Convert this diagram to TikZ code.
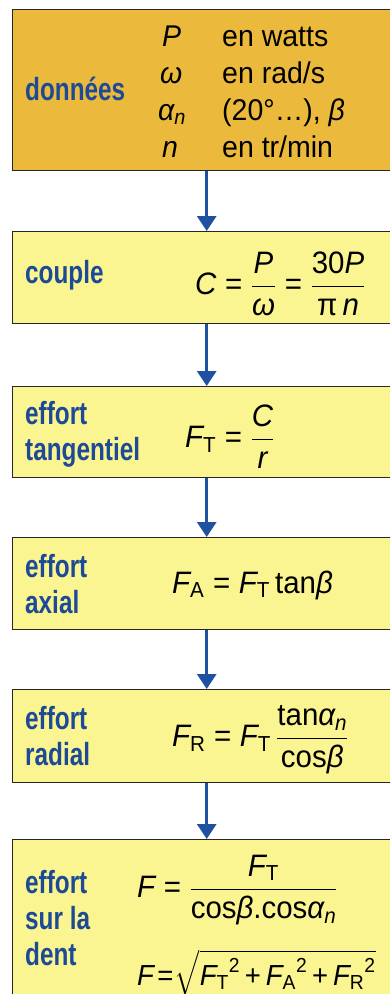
\RequirePackage{fix-cm}
\documentclass[tikz,border=0pt]{standalone}
\usepackage{amsmath}
\usepackage{fontspec}
\setmainfont{Liberation Sans}[FakeStretch=0.95]
\newfontfamily\lblfont{Liberation Sans}[FakeStretch=0.76]
\usetikzlibrary{arrows.meta}
\definecolor{gold}{RGB}{235,186,60}
\definecolor{pale}{RGB}{250,244,145}
\definecolor{lblue}{RGB}{28,74,150}
\definecolor{ablue}{RGB}{32,80,160}
\newcommand\vi[1]{\textit{#1}}
\newcommand\eqs{\mathrel{\text{=}}}
\newcommand\teq{\mskip2mu\text{=}\mskip1mu}
\newcommand\tpl{\mskip3mu\text{+}\mskip3mu}
\tikzset{
  box/.style={draw=black!85, line width=1.4pt, anchor=north west, minimum width=388pt, inner sep=0pt},
  lbl/.style={anchor=base west, align=left, inner sep=0pt, text=lblue, font=\lblfont\fontsize{32}{36}\selectfont\bfseries},
  txt/.style={anchor=base west, inner sep=0pt, font=\fontsize{30}{36}\selectfont},
  frm/.style={anchor=west, inner sep=0pt, font=\fontsize{31}{36}\selectfont},
  arr/.style={draw=ablue, line width=3.2pt, -{Triangle[length=15pt,width=19pt]}}
}
\begin{document}
\begin{tikzpicture}[x=1pt,y=-1pt]
\useasboundingbox (0,0) rectangle (390,994);
\clip (0,0) rectangle (390,994);
\fill[white] (0,0) rectangle (390,994);
% boxes
\node[box, fill=gold, minimum height=161pt] (b1) at (12,9) {};
\node[box, fill=pale, minimum height=92pt] (b2) at (12,231) {};
\node[box, fill=pale, minimum height=91pt] (b3) at (12,386) {};
\node[box, fill=pale, minimum height=92pt] (b4) at (12,537) {};
\node[box, fill=pale, minimum height=93pt] (b5) at (12,689) {};
\node[box, fill=pale, minimum height=180pt] (b6) at (12,839) {};
% arrows
\draw[arr] (b1.south) -- (b2.north);
\draw[arr] (b2.south) -- (b3.north);
\draw[arr] (b3.south) -- (b4.north);
\draw[arr] (b4.south) -- (b5.north);
\draw[arr] (b5.south) -- (b6.north);
% box 1
\node[lbl] (l1) at (25,100) {données};
\node[txt] (v1) at (162,46) {\itshape P};
\node[txt] (t1) at (222,46) {en watts};
\node[txt] (v2) at (160,83) {$\vi{ω}$};
\node[txt] (t2) at (222,83) {en rad/s};
\node[txt] (v3) at (158,120) {$\vi{α}_{\vi{n}}$};
\node[txt] (t3) at (222,120) {(20°…), \itshape β};
\node[txt] (v4) at (162,157) {\itshape n};
\node[txt] (t4) at (222,157) {en tr/min};
% box 2
\node[lbl] (l2) at (25,283) {couple};
\node[frm] (f2) at (195,284) {$\vi{C}\eqs\dfrac{\vi{P}}{\vi{ω}}\eqs\dfrac{\text{30}\vi{P}}{\text{π}\,\vi{n}}$};
% box 3
\node[lbl] (l3) at (25,460) {effort\\tangentiel};
\node[frm] (f3) at (185,437) {$\vi{F}_{\text{T}}\eqs\dfrac{\vi{C}}{\vi{r}}$};
% box 4
\node[lbl] (l4) at (25,613) {effort\\axial};
\node[frm, anchor=base west] (f4) at (172,593) {$\vi{F}_{\text{A}}\eqs\vi{F}_{\text{T}}\,\text{tan}\vi{β}$};
% box 5
\node[lbl] (l5) at (25,765) {effort\\radial};
\node[frm] (f5) at (172,740) {$\vi{F}_{\text{R}}\eqs\vi{F}_{\text{T}}\,\dfrac{\text{tan}\vi{α}_{\vi{n}}}{\text{cos}\vi{β}}$};
% box 6
\node[lbl] (l6) at (25,965) {effort\\sur la\\dent};
\node[frm] (f6) at (137,890) {$\vi{F}\eqs\dfrac{\vi{F}_{\text{T}}}{\text{cos}\vi{β}\text{.cos}\vi{α}_{\vi{n}}}$};
\node[frm, anchor=base west, font=\fontsize{29}{34}\selectfont] (g6) at (137,985) {$\vi{F}\teq\sqrt{{\vi{F}_{\text{T}}}^{\text{2}}\tpl{\vi{F}_{\text{A}}}^{\text{2}}\tpl{\vi{F}_{\text{R}}}^{\text{2}}}$};
\end{tikzpicture}
\end{document}
